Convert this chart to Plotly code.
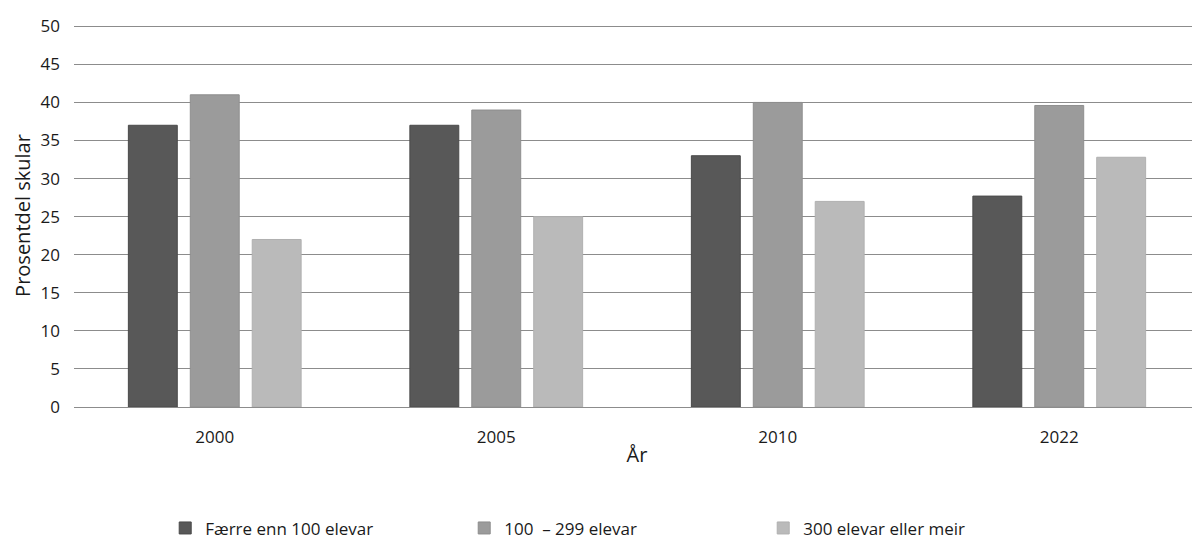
import plotly.graph_objects as go

years = ["2000", "2005", "2010", "2022"]
faerre_enn_100 = [37, 37, 33, 27.7]
mellom_100_299 = [41, 39, 40, 39.6]
over_300 = [22, 25, 27, 32.8]

series_names = ["Færre enn 100 elevar", "100  – 299 elevar", "300 elevar eller meir"]
colors = ["#585858", "#9b9b9b", "#bababa"]
borders = ["#4a4a4a", "#8e8e8e", "#b0b0b0"]

fig = go.Figure()
for name, vals, c, b in zip(series_names, [faerre_enn_100, mellom_100_299, over_300], colors, borders):
    fig.add_trace(go.Bar(x=years, y=vals, name=name,
                         marker=dict(color=c, line=dict(color=b, width=1))))

# page body has an 8px margin, so the figure is a bit smaller and shifted
fig.update_layout(
    width=1192, height=550,
    barmode="group", bargap=0.34, bargroupgap=0.21,
    plot_bgcolor="white", paper_bgcolor="white",
    font=dict(family="Open Sans", size=17, color="#1a1a1a"),
    margin=dict(l=66, r=0, t=16, b=151, autoexpand=False),
    xaxis=dict(title=dict(text="År", standoff=0), showline=False, ticks="",
               ticklabelstandoff=18, automargin=False),
    # a little headroom so the gridline at 50 is drawn
    yaxis=dict(title=dict(text="Prosentdel skular", standoff=4), range=[0, 50.3], dtick=5,
               ticklabelstandoff=13,
               gridcolor="#8c8c8c", gridwidth=1, zeroline=True, zerolinecolor="#8c8c8c",
               zerolinewidth=1, automargin=False),
    legend=dict(orientation="h", x=0.081, xanchor="left", y=-0.27, yanchor="top",
                entrywidth=254, entrywidthmode="pixels", font=dict(size=17)),
)

fig.write_html("out.html")
